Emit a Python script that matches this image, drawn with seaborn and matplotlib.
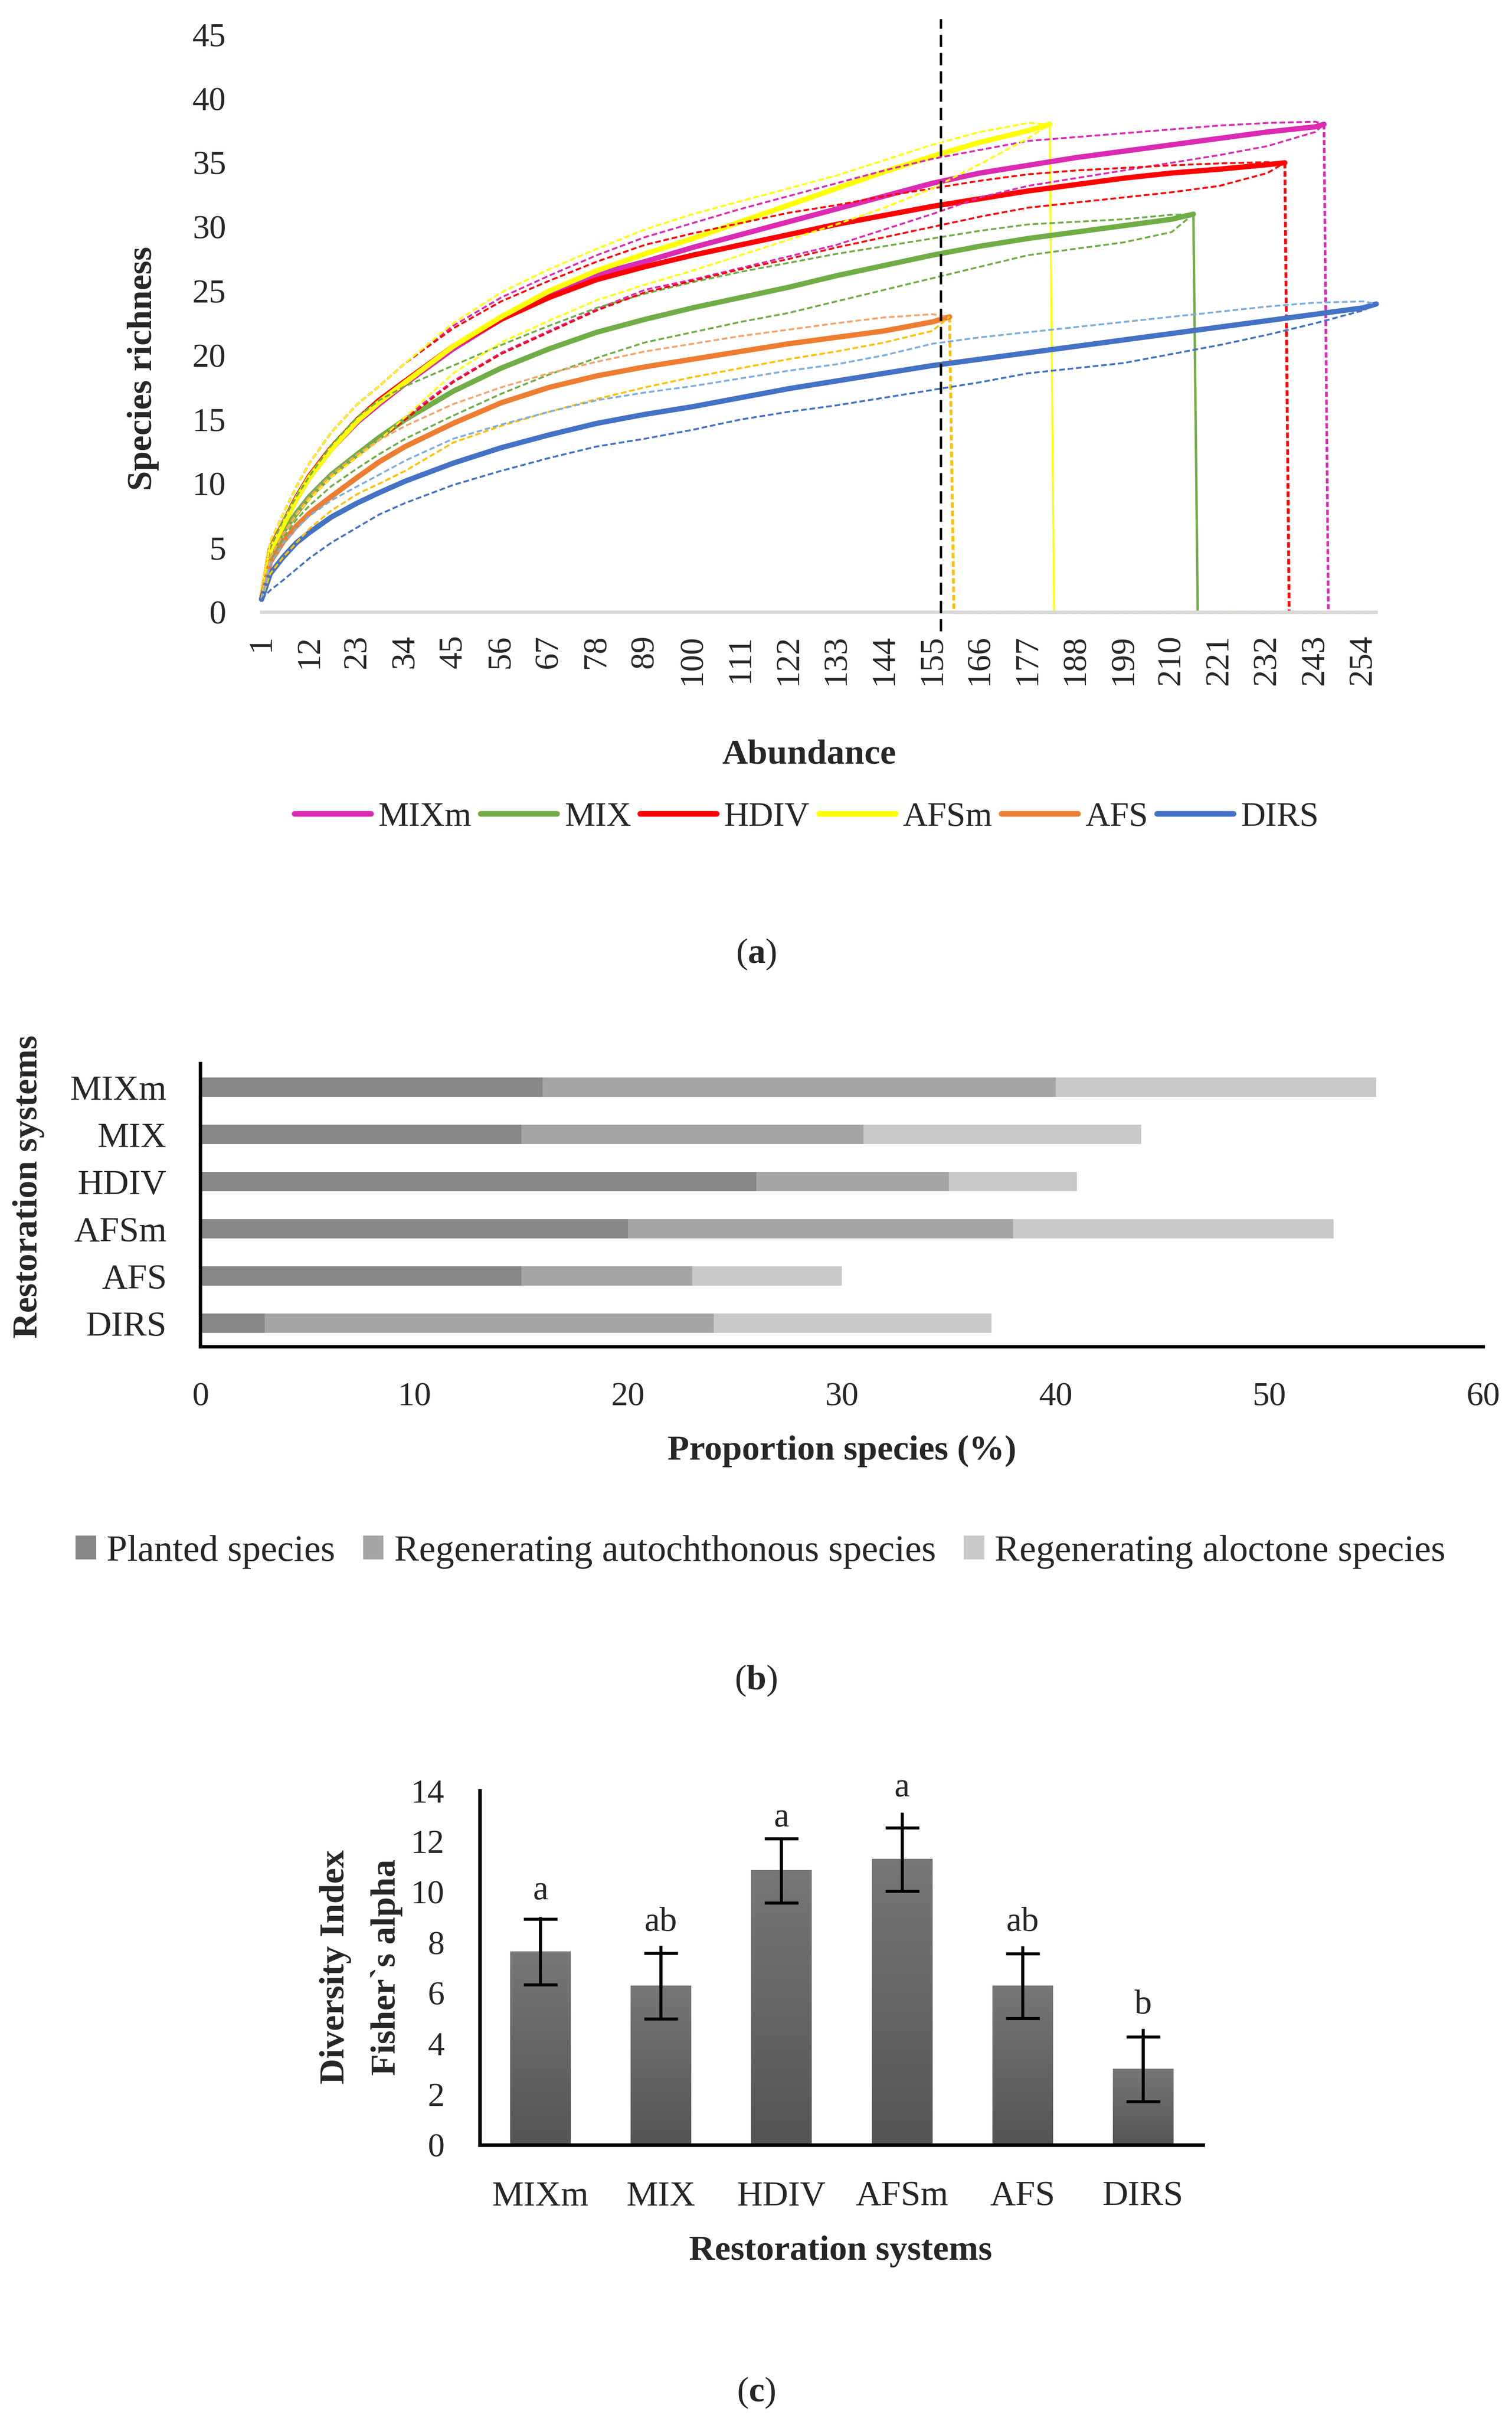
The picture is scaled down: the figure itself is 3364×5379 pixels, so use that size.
import numpy as np
import pandas as pd
import seaborn as sns
import matplotlib.pyplot as plt
from matplotlib.lines import Line2D
from matplotlib.patches import Patch
from matplotlib.colors import LinearSegmentedColormap

# ---- (a) rarefaction curves, values at these abundances (+ end point)
sample_x = [1, 3, 6, 9, 12, 17, 23, 28, 34, 45, 56, 67, 78, 89, 100, 111, 122, 133,
            144, 155, 166, 177, 188, 199, 210, 221, 232, 243, 254]
systems = ['MIXm', 'MIX', 'HDIV', 'AFSm', 'AFS', 'DIRS']
end_abund = [245, 215, 236, 182, 159, 257]

mixm_obs = [1, 4.8, 6.8, 8.8, 10.5, 12.7, 14.8, 16.2, 17.8, 20.5, 22.8, 24.8, 26.3, 27.3,
            28.4, 29.4, 30.4, 31.4, 32.4, 33.4, 34.2, 34.8, 35.4, 35.9, 36.4, 36.9, 37.4,
            37.8, 38]
mixm_up = [1, 5.5, 7.7, 9.8, 11.6, 14.0, 16.2, 17.6, 19.4, 22.3, 24.5, 26.2, 27.8, 29.2,
           30.3, 31.4, 32.4, 33.4, 34.4, 35.3, 36.0, 36.7, 37.0, 37.3, 37.6, 37.9, 38.1,
           38.2, 38]
mixm_lo = [1, 4.3, 6.1, 7.6, 8.8, 10.5, 12.1, 13.4, 15.2, 18.0, 20.2, 21.9, 23.6, 25.1,
           25.9, 26.8, 27.7, 28.6, 29.8, 31.0, 32.3, 33.2, 33.8, 34.4, 35.0, 35.6, 36.3,
           37.4, 38]

mix_obs = [1, 4.45, 6.3, 7.7, 9.0, 10.7, 12.3, 13.6, 15.0, 17.2, 19.0, 20.5, 21.8, 22.8,
           23.7, 24.5, 25.3, 26.2, 27.0, 27.8, 28.5, 29.1, 29.6, 30.1, 30.6, 31]
mix_up = [1, 5.0, 7.2, 9.0, 10.6, 13.0, 15.2, 16.5, 17.6, 19.2, 20.8, 22.3, 23.7, 24.8,
          25.7, 26.5, 27.2, 27.9, 28.5, 29.1, 29.7, 30.2, 30.4, 30.6, 30.95, 31]
mix_lo = [1, 4.1, 5.8, 7.2, 8.3, 9.8, 11.2, 12.3, 13.5, 15.3, 17.0, 18.5, 19.8, 21.0,
          21.8, 22.6, 23.3, 24.2, 25.1, 26.0, 26.9, 27.8, 28.3, 28.8, 29.6, 31]

hdiv_obs = [1, 4.9, 6.9, 8.9, 10.6, 12.8, 15.0, 16.5, 18.0, 20.7, 22.8, 24.5, 25.9, 26.9,
            27.8, 28.6, 29.4, 30.2, 30.9, 31.6, 32.2, 32.8, 33.3, 33.8, 34.2, 34.5, 34.85,
            35]
hdiv_up = [1, 5.5, 7.7, 9.8, 11.6, 14.0, 16.2, 17.6, 19.4, 22.1, 24.2, 25.8, 27.3, 28.6,
           29.5, 30.3, 31.1, 31.7, 32.4, 33.0, 33.6, 34.1, 34.4, 34.6, 34.8, 34.95, 35.05,
           35]
hdiv_lo = [1, 4.3, 6.1, 7.6, 8.8, 10.5, 12.1, 13.4, 15.0, 17.9, 20.1, 21.8, 23.5, 24.9,
           25.8, 26.7, 27.5, 28.4, 29.2, 30.0, 30.8, 31.5, 31.9, 32.3, 32.7, 33.2, 34.2,
           35]

afsm_obs = [1, 4.8, 6.8, 8.8, 10.5, 12.7, 14.9, 16.35, 17.9, 20.7, 23.0, 25.0, 26.6,
            27.9, 29.1, 30.4, 31.7, 33.0, 34.3, 35.5, 36.6, 37.5, 38]
afsm_up = [1, 5.5, 7.7, 9.8, 11.6, 14.0, 16.2, 17.6, 19.4, 22.5, 24.9, 26.7, 28.3, 29.8,
           31.0, 32.0, 33.0, 34.0, 35.2, 36.4, 37.4, 38.1, 38]
afsm_lo = [1, 4.3, 6.1, 7.6, 8.8, 10.5, 12.1, 13.4, 15.2, 18.6, 21.0, 22.7, 24.3, 25.5,
           26.6, 27.8, 29.0, 30.2, 31.5, 33.0, 34.9, 36.9, 38]

afs_obs = [1, 3.9, 5.5, 6.7, 7.7, 9.0, 10.5, 11.7, 12.9, 14.7, 16.3, 17.5, 18.4, 19.1,
           19.7, 20.3, 20.9, 21.4, 21.9, 22.6, 23]
afs_up = [1, 4.3, 6.1, 7.7, 9.0, 10.7, 12.3, 13.4, 14.5, 16.2, 17.5, 18.6, 19.5, 20.3,
          20.9, 21.5, 22.0, 22.5, 22.95, 23.2, 23]
afs_lo = [1, 3.0, 4.3, 5.4, 6.5, 7.9, 9.2, 10.0, 11.0, 13.2, 14.5, 15.6, 16.6, 17.5,
          18.3, 19.0, 19.7, 20.3, 21.0, 21.9, 23]

dirs_obs = [1, 3.0, 4.3, 5.4, 6.2, 7.4, 8.5, 9.3, 10.2, 11.6, 12.8, 13.8, 14.7, 15.4,
            16.0, 16.7, 17.4, 18.0, 18.6, 19.2, 19.7, 20.2, 20.7, 21.2, 21.7, 22.2, 22.7,
            23.2, 23.7, 24]
dirs_up = [1, 3.7, 5.4, 6.5, 7.5, 8.7, 9.8, 10.7, 11.8, 13.5, 14.6, 15.6, 16.5, 17.1,
           17.6, 18.2, 18.8, 19.3, 20.0, 20.9, 21.4, 21.8, 22.2, 22.6, 23.0, 23.4, 23.8,
           24.1, 24.2, 24]
dirs_lo = [1, 1.7, 2.5, 3.35, 4.2, 5.4, 6.6, 7.6, 8.5, 9.9, 11.0, 12.0, 12.9, 13.5,
           14.2, 15.0, 15.6, 16.1, 16.7, 17.3, 17.9, 18.6, 19.0, 19.4, 20.1, 20.8, 21.6,
           22.5, 23.5, 24]

x_ticks_a = list(range(1, 256, 11))
cutoff_abund = 157

# ---- (b) species proportions (%)
planted = [16, 15, 26, 20, 15, 3]
autochthonous = [24, 16, 9, 18, 8, 21]
aloctone = [15, 13, 6, 15, 7, 13]

# ---- (c) Fisher's alpha
fisher = [7.64, 6.29, 10.85, 11.29, 6.29, 2.99]
fisher_err = [1.3, 1.3, 1.27, 1.26, 1.28, 1.28]
stem_top = [9.03, 7.88, 12.1, 13.15, 7.86, 4.59]
letters = ['a', 'ab', 'a', 'a', 'ab', 'b']
letter_y = [9.71, 8.47, 12.6, 13.78, 8.48, 5.2]

sns.set_theme(style='white')
plt.rcParams['font.family'] = ['Liberation Serif', 'DejaVu Serif']
plt.rcParams['mathtext.fontset'] = 'custom'
plt.rcParams['mathtext.rm'] = 'Liberation Serif'
plt.rcParams['mathtext.bf'] = 'Liberation Serif:bold'

W, H = 3364, 5379
fig = plt.figure(figsize=(W / 300, H / 300), dpi=300)

def fx(px):
    return px / W

def fy(py):
    return 1 - py / H

# ================= panel (a)
ax = fig.add_axes([fx(582), fy(1361.6), fx(3062 - 582), (1361.6 - 76.5) / H])

colors = ['#DB2BB3', '#70AD47', '#FF0000', '#FFFF00', '#ED7D31', '#4472C4']
up_colors = ['#DB2BB3', '#70AD47', '#FF0000', '#FFFF00', '#F4A46A', '#7FAEDD']
lo_colors = ['#DB2BB3', '#70AD47', '#FF0000', '#FFFF00', '#FFC000', '#4472C4']
obs = [mixm_obs, mix_obs, hdiv_obs, afsm_obs, afs_obs, dirs_obs]
ups = [mixm_up, mix_up, hdiv_up, afsm_up, afs_up, dirs_up]
los = [mixm_lo, mix_lo, hdiv_lo, afsm_lo, afs_lo, dirs_lo]

def series_x(end):
    return [v for v in sample_x if v < end] + [end]

for end, y, c in zip(end_abund, obs, colors):
    sns.lineplot(x=series_x(end), y=y, ax=ax, color=c, lw=2.8, estimator=None,
                 sort=False, solid_capstyle='round', solid_joinstyle='round',
                 clip_on=False, zorder=3)

for end, yu, yl, cu, cl in zip(end_abund, ups, los, up_colors, lo_colors):
    xs = series_x(end)
    ax.plot(xs, yu, color=cu, lw=1.0, linestyle=(0, (3, 1.5)), zorder=4, clip_on=False)
    ax.plot(xs, yl, color=cl, lw=1.0, linestyle=(0, (3, 1.5)), zorder=4, clip_on=False)

# drop of each series to zero after its last abundance
drop_colors = ['#DB2BB3', '#70AD47', '#FF0000', '#FFFF00', '#FFC000']
drop_styles = [(0, (2, 1)), '-', (0, (2, 1)), '-', (0, (2, 1))]
drop_lw = [1.4, 1.3, 1.5, 1.0, 1.5]
x_max = max(end_abund)
for i in range(5):
    end = end_abund[i]
    ax.plot([end, end + 1], [obs[i][-1], 0], color=drop_colors[i],
            linestyle=drop_styles[i], lw=drop_lw[i], zorder=2, clip_on=False)
afs_end = end_abund[4]
ax.plot([afs_end + 1, x_max], [0, 0], color='#FFC000', lw=1.7,
        linestyle=(0, (2.5, 0.8)), zorder=2.5, clip_on=False)

ax.plot([cutoff_abund, cutoff_abund], [-1.5, 46.2], color='black', lw=1.3,
        linestyle=(0, (5, 2.5)), zorder=5, clip_on=False)

ax.set_xlim(1, x_max)
ax.set_ylim(0, 45)
ax.set_yticks(range(0, 46, 5))
ax.set_xticks(x_ticks_a)
ax.set_xticklabels([str(v) for v in x_ticks_a], rotation=90)
ax.tick_params(axis='y', length=0, pad=19, labelsize=18)
ax.tick_params(axis='x', length=0, pad=12, labelsize=18)
for s in ['top', 'right', 'left']:
    ax.spines[s].set_visible(False)
ax.spines['bottom'].set_color('#D9D9D9')
ax.spines['bottom'].set_linewidth(1.8)
ax.set_xlabel('')
ax.set_ylabel('')

fig.text(fx(318), fy(820), 'Species richness', rotation=90, fontsize=19,
         fontweight='bold', ha='center', va='center')
fig.text(fx(1800), fy(1680), 'Abundance', fontsize=19, fontweight='bold',
         ha='center', va='center')

handles = [Line2D([0], [0], color=c, lw=3, solid_capstyle='round') for c in colors]
fig.legend(handles, systems, loc='center', bbox_to_anchor=(fx(1795), fy(1818)),
           ncol=6, frameon=False, fontsize=18.3, handlelength=2.23,
           handletextpad=0.22, columnspacing=0.26)
fig.text(0.5, fy(2123), r'($\mathbf{a}$)', fontsize=19, ha='center', va='center')

# ================= panel (b)
axb = fig.add_axes([fx(446), fy(2996), fx(3300 - 446), (2996 - 2366) / H])
df_b = pd.DataFrame({'system': systems, 'planted': planted,
                     'autochthonous': autochthonous, 'aloctone': aloctone})
df_b['upto_auto'] = df_b['planted'] + df_b['autochthonous']
df_b['total'] = df_b['upto_auto'] + df_b['aloctone']
gray_colors = ['#878787', '#A5A5A5', '#C9C9C9']
for col, c in zip(['total', 'upto_auto', 'planted'], gray_colors[::-1]):
    sns.barplot(data=df_b, y='system', x=col, color=c, saturation=1, width=0.41,
                ax=axb, linewidth=0)
axb.set_xlim(0, 60)
axb.set_ylim(5.5, -0.5)
axb.set_xticks(range(0, 61, 10))
axb.tick_params(axis='x', length=0, pad=19, labelsize=18)
axb.tick_params(axis='y', length=0, pad=18, labelsize=19)
for s in ['top', 'right']:
    axb.spines[s].set_visible(False)
for s in ['left', 'bottom']:
    axb.spines[s].set_color('black')
    axb.spines[s].set_linewidth(1.8)
axb.set_xlabel('')
axb.set_ylabel('')

fig.text(fx(1873), fy(3228), 'Proportion species (%)', fontsize=19,
         fontweight='bold', ha='center', va='center')
fig.text(fx(64), fy(2640), 'Restoration systems', rotation=90, fontsize=19,
         fontweight='bold', ha='center', va='center')
handles_b = [Patch(facecolor=c, edgecolor='none') for c in gray_colors]
fig.legend(handles_b, ['Planted species', 'Regenerating autochthonous species',
                       'Regenerating aloctone species'],
           loc='center', bbox_to_anchor=(fx(1692), fy(3452)), ncol=3,
           frameon=False, fontsize=19.9, handlelength=0.55, handleheight=0.62,
           handletextpad=0.28, columnspacing=0.75)
fig.text(0.5, fy(3739), r'($\mathbf{b}$)', fontsize=19, ha='center', va='center')

# ================= panel (c)
axc = fig.add_axes([fx(1068), fy(4771.5), fx(2677 - 1068), (4771.5 - 3984) / H])
sns.barplot(x=systems, y=fisher, color='#666666', saturation=1, width=0.5,
            ax=axc, linewidth=0)
grad_cmap = LinearSegmentedColormap.from_list('bar_grad', ['#545454', '#777777'])
grad = np.linspace(0, 1, 256).reshape(-1, 1)
for p in axc.patches:
    x0, y0 = p.get_x(), p.get_y()
    w, h = p.get_width(), p.get_height()
    axc.imshow(grad, extent=[x0, x0 + w, y0, y0 + h], origin='lower',
               aspect='auto', cmap=grad_cmap, zorder=2)
    p.set_facecolor('none')
xpos = np.arange(len(systems))
axc.errorbar(xpos, fisher, yerr=fisher_err, fmt='none', ecolor='black',
             elinewidth=1.6, capsize=9, capthick=1.6, zorder=4)
axc.vlines(xpos, fisher, stem_top, color='black', lw=1.6, zorder=4)
for i, t in enumerate(letters):
    axc.text(xpos[i], letter_y[i], t, ha='center', va='baseline', fontsize=18.5)
axc.set_xlim(-0.5, 5.5)
axc.set_ylim(0, 14)
axc.set_yticks(range(0, 15, 2))
axc.tick_params(axis='y', length=0, pad=19, labelsize=18)
axc.tick_params(axis='x', length=0, pad=19, labelsize=19)
for s in ['top', 'right']:
    axc.spines[s].set_visible(False)
for s in ['left', 'bottom']:
    axc.spines[s].set_color('black')
    axc.spines[s].set_linewidth(1.9)
axc.set_xlabel('')
axc.set_ylabel('')

fig.text(fx(1870), fy(5008), 'Restoration systems', fontsize=19, fontweight='bold',
         ha='center', va='center')
fig.text(fx(747), fy(4376), 'Diversity Index', rotation=90, fontsize=19,
         fontweight='bold', ha='center', va='center')
fig.text(fx(860), fy(4376), 'Fisher`s alpha', rotation=90, fontsize=19,
         fontweight='bold', ha='center', va='center')
fig.text(0.5, fy(5323), r'($\mathbf{c}$)', fontsize=19, ha='center', va='center')

fig.savefig('out.png', dpi=300)
